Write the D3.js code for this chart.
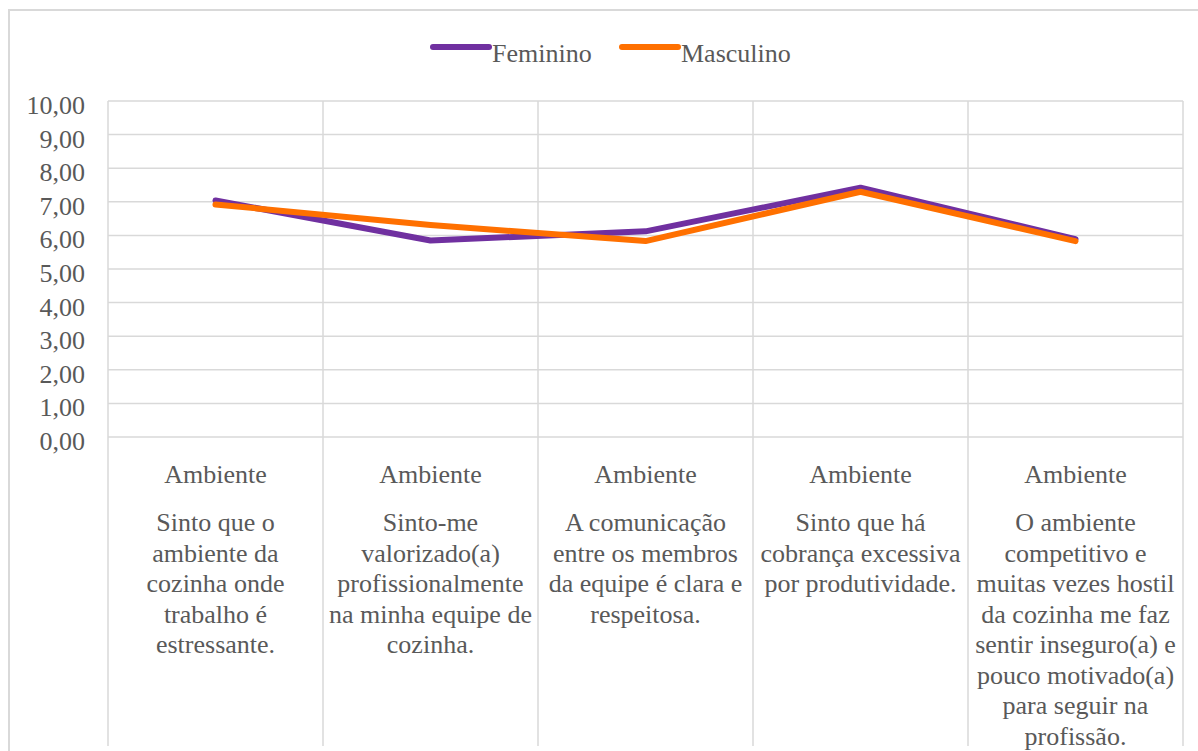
<!DOCTYPE html>
<html><head><meta charset="utf-8">
<script src="https://cdn.jsdelivr.net/npm/d3@7"></script>
<style>
html,body{margin:0;padding:0;background:#fff;}
svg{display:block;}
</style></head>
<body>
<svg id="chart" width="1198" height="751"></svg>
<script>
const groupLabels = ["Ambiente","Ambiente","Ambiente","Ambiente","Ambiente"];
const categoryLines = [
  ["Sinto que o","ambiente da","cozinha onde","trabalho é","estressante."],
  ["Sinto-me","valorizado(a)","profissionalmente","na minha equipe de","cozinha."],
  ["A comunicação","entre os membros","da equipe é clara e","respeitosa."],
  ["Sinto que há","cobrança excessiva","por produtividade."],
  ["O ambiente","competitivo e","muitas vezes hostil","da cozinha me faz","sentir inseguro(a) e","pouco motivado(a)","para seguir na","profissão."]
];
const seriesNames = ["Feminino","Masculino"];
const feminino = [7.04, 5.85, 6.12, 7.42, 5.89];
const masculino = [6.92, 6.31, 5.83, 7.30, 5.83];
const yTicks = [0,1,2,3,4,5,6,7,8,9,10];
const colors = ["#7030A0","#FF7000"];

const FONT = "'Liberation Serif', 'Times New Roman', Tinos, 'DejaVu Serif', serif";
const svg = d3.select("#chart").attr("font-family", FONT);
const grid = "#d9d9d9";
const txt = "#595959";

// outer chart border
svg.append("path").attr("d","M9,751 V10 H1198").attr("fill","none").attr("stroke",grid).attr("stroke-width",2);

const idx = d3.range(categoryLines.length);
const x = d3.scaleBand().domain(idx).range([108,1183]).padding(0);
const y = d3.scaleLinear().domain([0,10]).range([437,101]);

// horizontal gridlines
svg.append("g").selectAll("line").data(yTicks).join("line")
  .attr("x1",108).attr("x2",1183)
  .attr("y1",d=>y(d)).attr("y2",d=>y(d))
  .attr("stroke",grid).attr("stroke-width",1.5);

// vertical category separators
const seps = idx.map(i=>x(i)).concat([x(idx.length-1)+x.bandwidth()]);
svg.append("g").selectAll("line").data(seps).join("line")
  .attr("x1",d=>d).attr("x2",d=>d).attr("y1",y(10)).attr("y2",746)
  .attr("stroke",grid).attr("stroke-width",1.5);

// y axis labels
const fmt = d => d.toFixed(2).replace(".",",");
svg.append("g").selectAll("text").data(yTicks).join("text")
  .attr("x",85).attr("y",d=>y(d)+13)
  .attr("text-anchor","end").attr("font-size",26).attr("fill",txt)
  .style("font-family",FONT)
  .text(fmt);

// category labels
const cat = svg.append("g");
idx.forEach(i=>{
  const cx = x(i)+x.bandwidth()/2;
  cat.append("text").attr("x",cx).attr("y",483).attr("text-anchor","middle")
    .attr("font-size",26).attr("fill",txt).style("font-family",FONT).text(groupLabels[i]);
  categoryLines[i].forEach((ln,j)=>{
    cat.append("text").attr("x",cx).attr("y",531+j*30.5).attr("text-anchor","middle")
      .attr("font-size",26).attr("fill",txt).style("font-family",FONT).text(ln);
  });
});

// lines
const line = d3.line().x((d,i)=>x(i)+x.bandwidth()/2).y(d=>y(d));
[feminino, masculino].forEach((s,k)=>{
  svg.append("path").datum(s).attr("d",line)
    .attr("fill","none").attr("stroke",colors[k]).attr("stroke-width",6)
    .attr("stroke-linejoin","round").attr("stroke-linecap","round");
});

// legend
const legX = [433, 622];
seriesNames.forEach((n,k)=>{
  svg.append("line").attr("x1",legX[k]).attr("x2",legX[k]+56).attr("y1",47).attr("y2",47)
    .attr("stroke",colors[k]).attr("stroke-width",6).attr("stroke-linecap","round");
  svg.append("text").attr("x",legX[k]+59).attr("y",62).attr("font-size",26).attr("fill",txt)
    .style("font-family",FONT).text(n);
});
</script>
</body></html>
